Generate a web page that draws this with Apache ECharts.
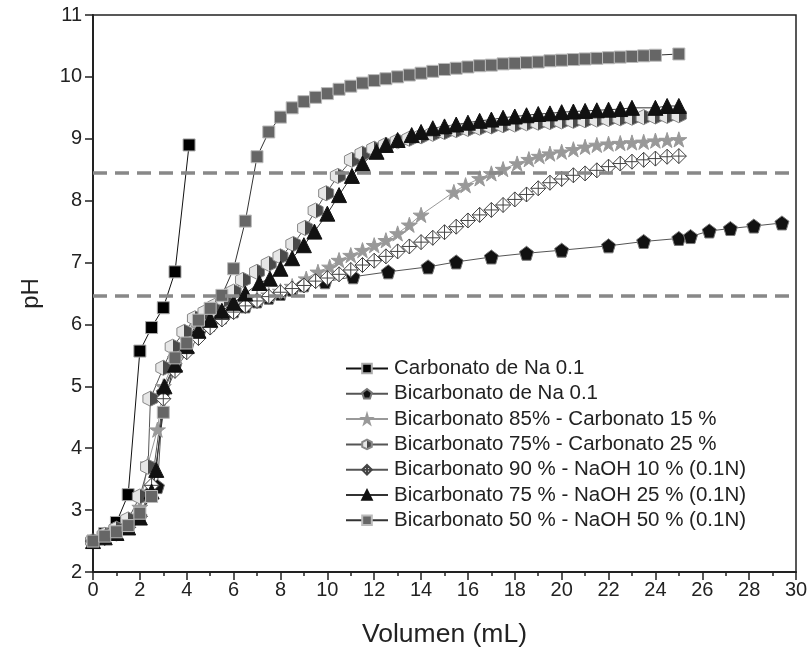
<!DOCTYPE html>
<html>
<head>
<meta charset="utf-8">
<script src="https://cdn.jsdelivr.net/npm/echarts@6/dist/echarts.min.js"></script>
<style>html,body{margin:0;padding:0;background:#fff}#chart{width:809px;height:655px}</style>
</head>
<body>
<div id="chart"></div>
<script>
// series names (legend order)
const seriesNames = [
  'Carbonato de Na 0.1',
  'Bicarbonato de Na 0.1',
  'Bicarbonato 85% - Carbonato 15 %',
  'Bicarbonato 75% - Carbonato 25 %',
  'Bicarbonato 90 % - NaOH 10 % (0.1N)',
  'Bicarbonato 75 % - NaOH 25 % (0.1N)',
  'Bicarbonato 50 % - NaOH 50 % (0.1N)'
];

const carbX = [0, 0.5, 1.0, 1.5, 2.0, 2.5, 3.0, 3.5, 4.1];
const carbY = [2.5, 2.62, 2.8, 3.25, 5.57, 5.95, 6.27, 6.85, 8.9];

const bicX = [0, 0.5, 1, 1.5, 2, 2.5, 2.75, 3, 3.5, 4, 4.5, 5, 5.5, 6, 6.5, 7, 7.5, 8, 8.5, 9, 9.9, 11.1, 12.6, 14.3, 15.5, 17, 18.5, 20, 22, 23.5, 25, 25.5, 26.3, 27.2, 28.2, 29.4];
const bicY = [2.5, 2.57, 2.64, 2.73, 2.9, 3.3, 3.38, 4.9, 5.35, 5.65, 5.85, 6.0, 6.12, 6.22, 6.3, 6.38, 6.44, 6.5, 6.57, 6.64, 6.69, 6.77, 6.85, 6.93, 7.01, 7.09, 7.15, 7.2, 7.27, 7.34, 7.39, 7.42, 7.51, 7.55, 7.59, 7.64];

const b85X = [0, 0.5, 1, 1.5, 2, 2.35, 2.75, 3, 3.5, 4, 4.5, 5, 5.5, 6, 6.5, 7, 7.5, 8, 8.5, 9.1, 9.6, 10.1, 10.5, 11, 11.5, 12, 12.5, 13, 13.5, 14, 15.4, 15.9, 16.5, 17, 17.5, 18.1, 18.6, 19.05, 19.5, 20, 20.5, 21, 21.5, 22, 22.5, 23, 23.5, 24, 24.5, 25];
const b85Y = [2.5, 2.6, 2.7, 2.82, 3.05, 3.75, 4.3, 5.0, 5.45, 5.75, 5.95, 6.08, 6.18, 6.27, 6.35, 6.42, 6.48, 6.54, 6.62, 6.74, 6.85, 6.93, 7.04, 7.12, 7.2, 7.28, 7.36, 7.47, 7.61, 7.77, 8.14, 8.25, 8.36, 8.44, 8.51, 8.6, 8.67, 8.72, 8.76, 8.79, 8.83, 8.87, 8.9, 8.92, 8.93, 8.94, 8.95, 8.97, 8.98, 8.99];

const b75cX = [0, 0.5, 1, 1.5, 2, 2.35, 2.45, 3, 3.4, 3.9, 4.35, 4.8, 5.2, 5.6, 6, 6.4, 7, 7.5, 8, 8.55, 9.05, 9.5, 9.95, 10.45, 11.05, 11.5, 12, 12.5, 13, 13.5, 14, 14.5, 15, 15.5, 16, 16.5, 17, 17.5, 18, 18.5, 19, 19.5, 20, 20.5, 21, 21.5, 22, 22.5, 23, 23.5, 24, 24.5, 25];
const b75cY = [2.5, 2.6, 2.7, 2.85, 3.22, 3.7, 4.8, 5.3, 5.64, 5.88, 6.1, 6.2, 6.3, 6.4, 6.53, 6.72, 6.85, 6.98, 7.1, 7.3, 7.56, 7.84, 8.12, 8.4, 8.66, 8.76, 8.84, 8.9, 8.96, 9.0, 9.04, 9.08, 9.11, 9.14, 9.16, 9.18, 9.2, 9.22, 9.23, 9.25, 9.26, 9.27, 9.28, 9.29, 9.3, 9.31, 9.32, 9.33, 9.34, 9.35, 9.36, 9.37, 9.38];

const n10X = [0, 0.5, 1, 1.5, 2, 2.5, 3, 3.5, 4, 4.5, 5, 5.5, 6, 6.5, 7, 7.5, 8, 8.5, 9, 9.5, 10, 10.5, 11, 11.5, 12, 12.5, 13, 13.5, 14, 14.5, 15, 15.5, 16, 16.5, 17, 17.5, 18, 18.5, 19, 19.5, 20, 20.5, 21, 21.5, 22, 22.5, 23, 23.5, 24, 24.5, 25];
const n10Y = [2.5, 2.55, 2.62, 2.72, 2.9, 3.4, 4.8, 5.25, 5.55, 5.78, 5.95, 6.08, 6.2, 6.3, 6.38, 6.45, 6.52, 6.58, 6.63, 6.7, 6.75, 6.81, 6.88, 6.96, 7.03, 7.1, 7.18, 7.26, 7.33, 7.4, 7.49, 7.58, 7.68, 7.77, 7.85, 7.93, 8.02, 8.1, 8.2, 8.29, 8.35, 8.41, 8.44, 8.49, 8.55, 8.6, 8.63, 8.66, 8.68, 8.71, 8.72];

const n25X = [0, 0.5, 1, 1.5, 2, 2.5, 2.7, 3.05, 3.5, 4, 4.5, 5, 5.5, 6, 6.5, 7.1, 7.55, 8, 8.5, 9, 9.45, 10, 10.5, 11.05, 11.5, 12.1, 12.5, 13, 13.6, 14, 14.5, 15, 15.5, 16, 16.5, 17, 17.5, 18, 18.5, 19, 19.5, 20, 20.5, 21, 21.5, 22, 22.5, 23, 24, 24.5, 25];
const n25Y = [2.5, 2.56, 2.63, 2.72, 2.88, 3.3, 3.65, 5.0, 5.35, 5.65, 5.9, 6.08, 6.22, 6.35, 6.5, 6.67, 6.74, 6.9, 7.07, 7.28, 7.5, 7.79, 8.09, 8.4, 8.6, 8.79, 8.9, 8.98, 9.06, 9.11, 9.17, 9.2, 9.23, 9.26, 9.29, 9.31, 9.34, 9.36, 9.38, 9.4, 9.41, 9.43, 9.44, 9.45, 9.46, 9.47, 9.48, 9.5, 9.5, 9.53, 9.53];

const n50X = [0, 0.5, 1, 1.5, 2, 2.5, 3, 3.5, 4, 4.5, 5, 5.5, 6, 6.5, 7, 7.5, 8, 8.5, 9, 9.5, 10, 10.5, 11, 11.5, 12, 12.5, 13, 13.5, 14, 14.5, 15, 15.5, 16, 16.5, 17, 17.5, 18, 18.5, 19, 19.5, 20, 20.5, 21, 21.5, 22, 22.5, 23, 23.5, 24, 25];
const n50Y = [2.5, 2.58, 2.65, 2.75, 2.95, 3.22, 4.58, 5.46, 5.7, 6.07, 6.26, 6.47, 6.9, 7.67, 8.71, 9.11, 9.35, 9.5, 9.6, 9.67, 9.73, 9.8, 9.85, 9.9, 9.94, 9.97, 10.0, 10.03, 10.06, 10.09, 10.12, 10.14, 10.16, 10.18, 10.19, 10.21, 10.22, 10.23, 10.24, 10.26, 10.27, 10.28, 10.29, 10.3, 10.31, 10.32, 10.33, 10.34, 10.35, 10.37];

// reference pH lines
const refLines = [8.45, 6.47];

const zip = (xs, ys) => xs.map((x, i) => [x, ys[i]]);

const PENTAGON = 'path://M50,0 L100,38 L81,100 L19,100 L0,38 Z';
const STAR = 'path://M50,0 L61,35 L98,35 L68,57 L79,91 L50,70 L21,91 L32,57 L2,35 L39,35 Z';
const HEXAGON = 'path://M50,0 L100,25 L100,75 L50,100 L0,75 L0,25 Z';
const XDIAMOND = 'path://M50,0 L100,50 L50,100 L0,50 Z M50,0 L50,100 M0,50 L100,50';

const halfFill = new echarts.graphic.LinearGradient(0, 0, 1, 0, [
  { offset: 0, color: '#e6e6e6' }, { offset: 0.5, color: '#e6e6e6' },
  { offset: 0.5, color: '#4a4a4a' }, { offset: 1, color: '#4a4a4a' }
]);

function mk(name, xs, ys, symbol, size, fill, border, lineColor) {
  return {
    name: name,
    type: 'line',
    data: zip(xs, ys),
    symbol: symbol,
    symbolSize: size,
    showAllSymbol: true,
    symbolKeepAspect: true,
    animation: false,
    lineStyle: { color: lineColor, width: 1 },
    itemStyle: { color: fill, borderColor: border, borderWidth: 1 },
    emphasis: { disabled: true }
  };
}

const series = [
  mk(seriesNames[0], carbX, carbY, 'rect', 12, '#000', '#aaa', '#111'),
  mk(seriesNames[1], bicX, bicY, PENTAGON, 14, '#111', '#777', '#555'),
  mk(seriesNames[2], b85X, b85Y, STAR, 16, '#999', '#999', '#999'),
  mk(seriesNames[3], b75cX, b75cY, HEXAGON, 15, halfFill, '#888', '#555'),
  mk(seriesNames[4], n10X, n10Y, XDIAMOND, 15, '#fff', '#444', '#555'),
  mk(seriesNames[5], n25X, n25Y, 'triangle', 15, '#111', '#111', '#333'),
  mk(seriesNames[6], n50X, n50Y, 'rect', 12, '#666', '#bbb', '#333')
];

series.push({
  type: 'line',
  data: [],
  silent: true,
  z: 1,
  markLine: {
    silent: true,
    symbol: 'none',
    label: { show: false },
    animation: false,
    lineStyle: { color: '#888', width: 3.5, type: [14, 8] },
    data: refLines.map(v => ({ yAxis: v }))
  }
});

const chart = echarts.init(document.getElementById('chart'), null, { renderer: 'canvas' });
chart.setOption({
  backgroundColor: '#fff',
  textStyle: { fontFamily: 'Liberation Sans, Arial, sans-serif' },
  grid: {
    left: 93, right: 13, top: 15, bottom: 83,
    outerBoundsMode: 'none',
    containLabel: false,
    show: true, borderColor: '#222', borderWidth: 1.5
  },
  legend: {
    orient: 'vertical',
    left: 340,
    top: 353,
    itemWidth: 42,
    itemHeight: 12,
    itemGap: 4.3,
    data: seriesNames,
    textStyle: { fontSize: 20.5, lineHeight: 20, color: '#222', padding: [0, 0, 0, 1] }
  },
  xAxis: {
    type: 'value',
    min: 0, max: 30, interval: 2,
    name: 'Volumen (mL)',
    nameLocation: 'middle',
    nameGap: 49,
    nameTextStyle: { fontSize: 26.5, color: '#222' },
    axisLine: { lineStyle: { color: '#222', width: 2 } },
    axisTick: { length: 8, lineStyle: { color: '#222', width: 1.5 } },
    minorTick: { show: true, splitNumber: 2, length: 4, lineStyle: { color: '#222', width: 1.5 } },
    axisLabel: { fontSize: 20, color: '#222', margin: 8 },
    splitLine: { show: false }
  },
  yAxis: {
    type: 'value',
    min: 2, max: 11, interval: 1,
    name: 'pH',
    nameLocation: 'middle',
    nameGap: 50,
    nameTextStyle: { fontSize: 24, color: '#222' },
    axisLine: { show: true, lineStyle: { color: '#222', width: 2 } },
    axisTick: { show: true, length: 8, lineStyle: { color: '#222', width: 1.5 } },
    axisLabel: { fontSize: 20, color: '#222', margin: 11 },
    splitLine: { show: false }
  },
  series: series
});
</script>
</body>
</html>
